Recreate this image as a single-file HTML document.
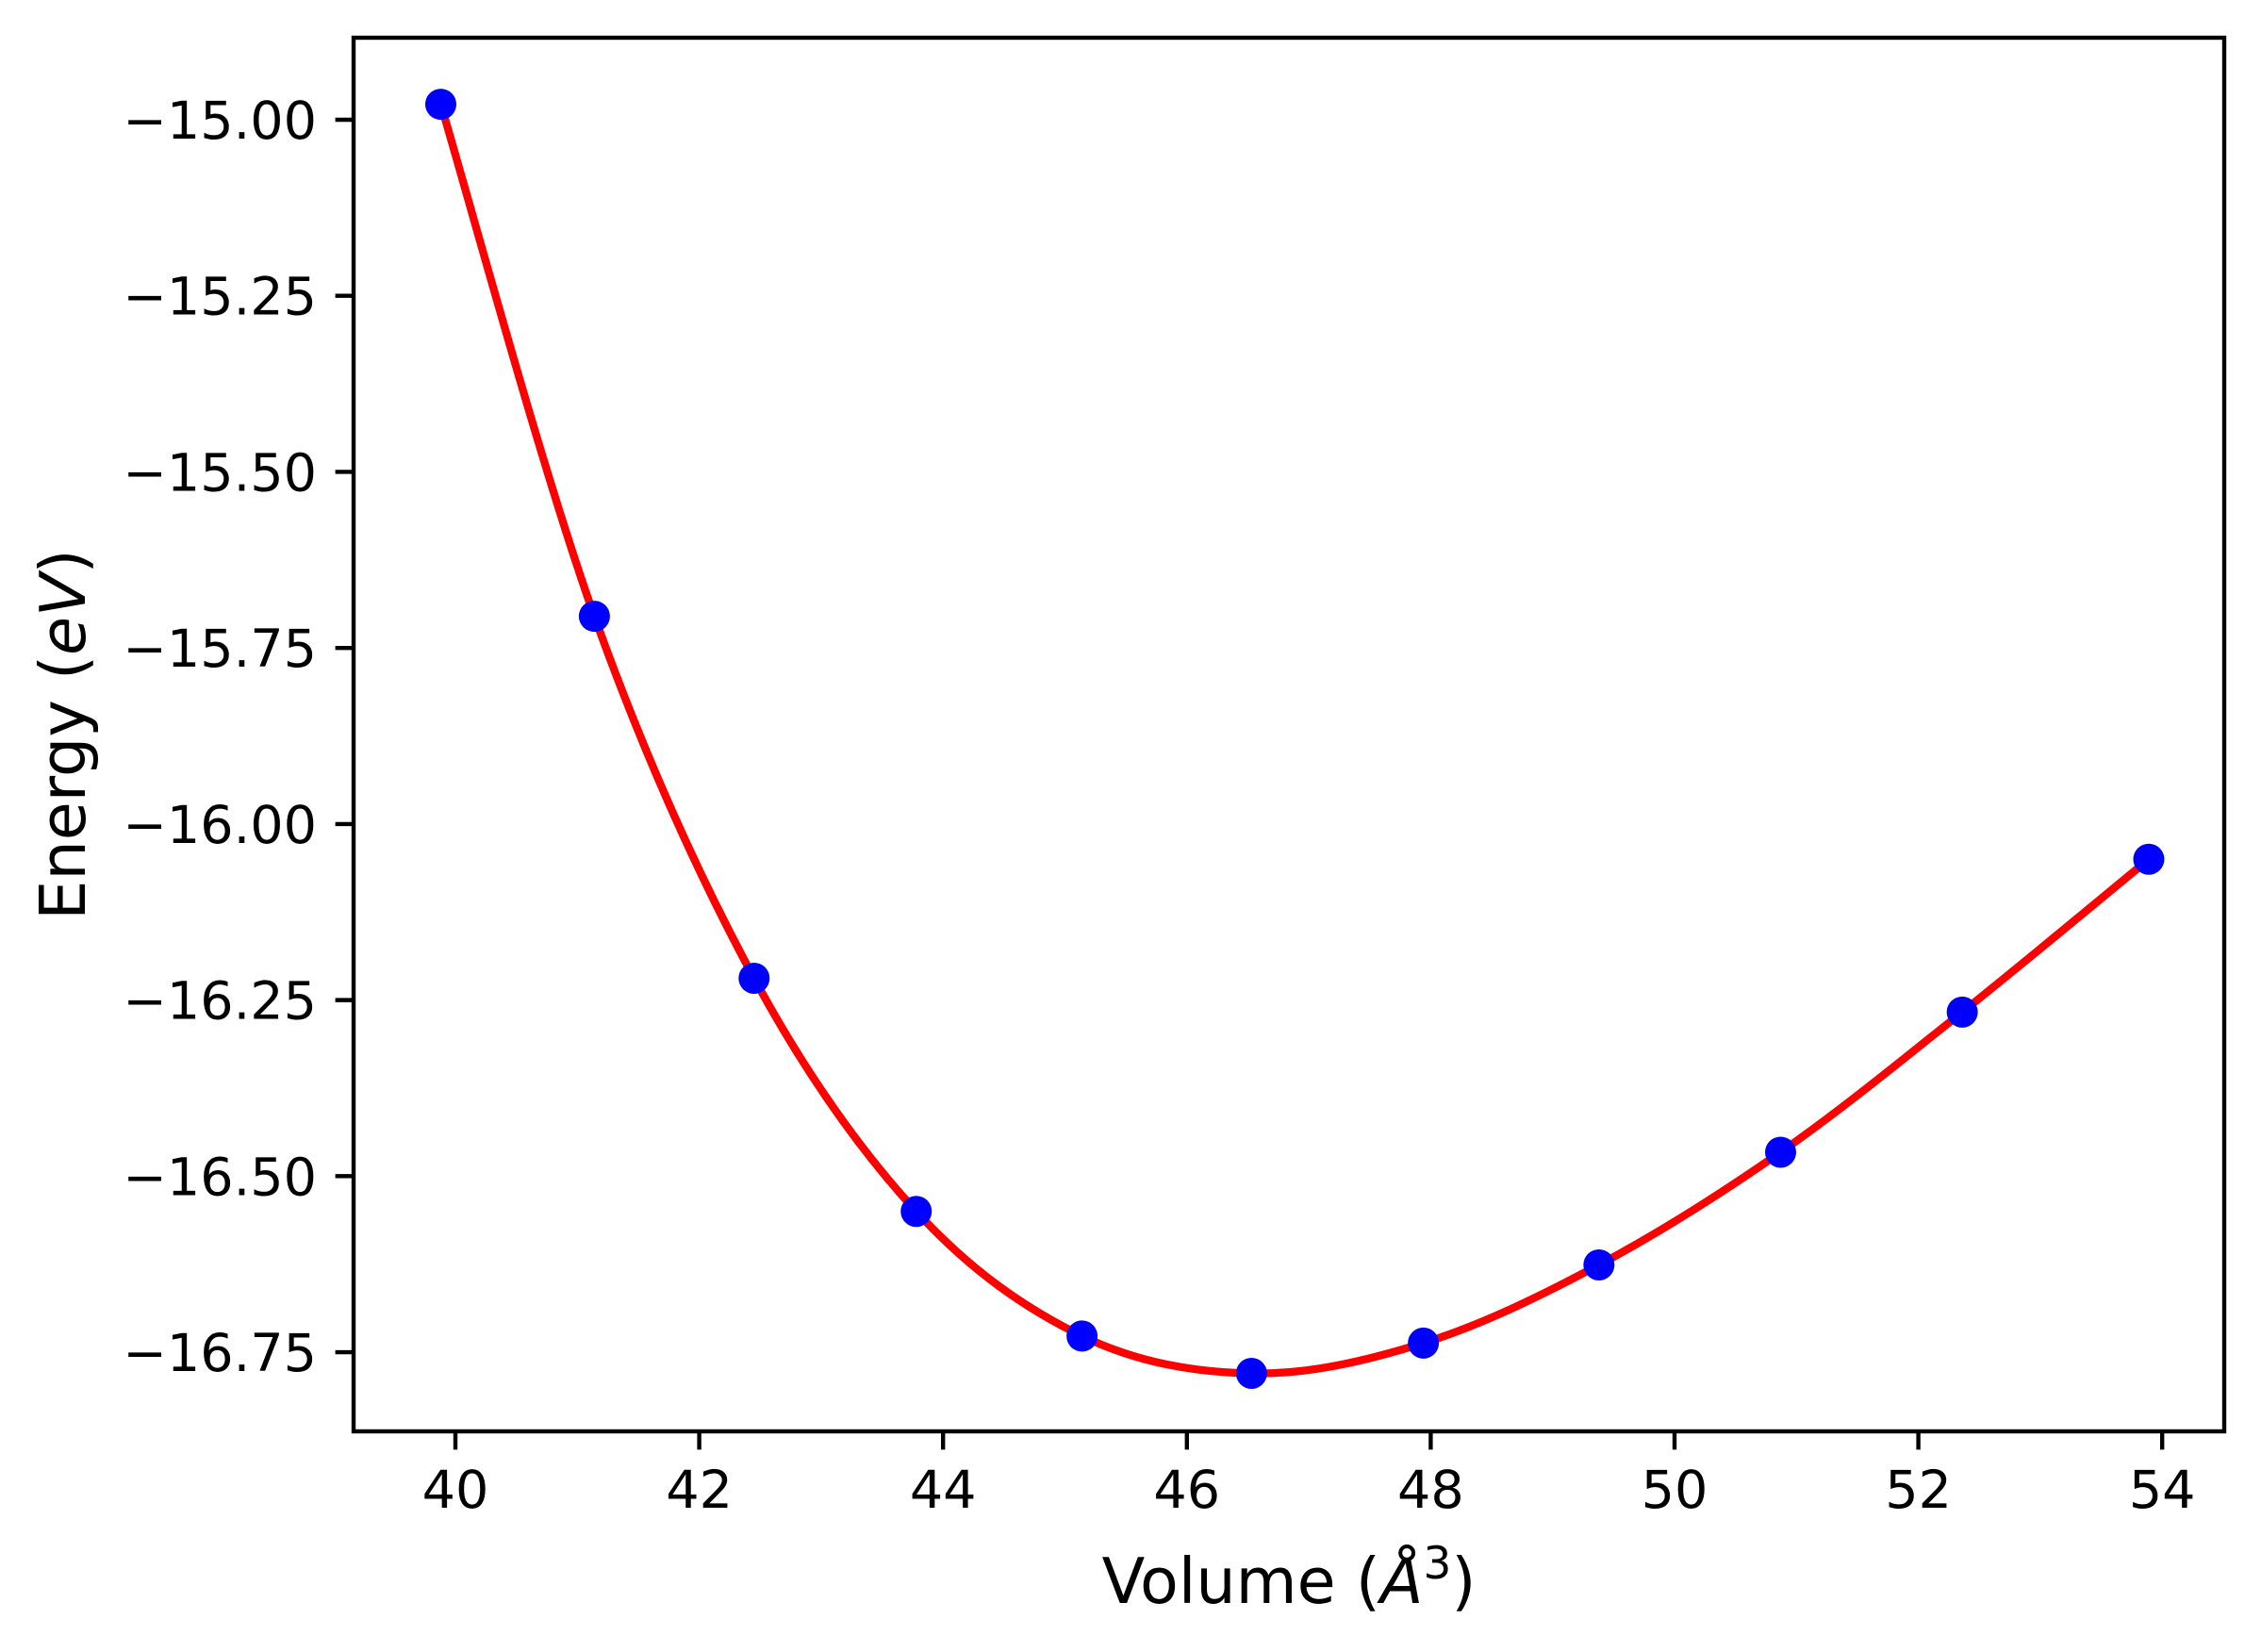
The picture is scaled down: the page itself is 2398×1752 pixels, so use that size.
<!DOCTYPE html>
<html><head><meta charset="utf-8"><style>
html,body{margin:0;padding:0;background:#fff;}
svg text{font-family:"DejaVu Sans","Liberation Sans",sans-serif;fill:#000;}
</style></head><body>
<svg id="chart" width="2398" height="1747" viewBox="0 0 2398 1747" xmlns="http://www.w3.org/2000/svg">
<rect x="0" y="0" width="2398" height="1747" fill="#fff"/>
<g id="plot"></g>
<g id="axes"></g>
<text x="1367" y="1700" font-size="66.7" text-anchor="middle">Volume (<tspan font-style="italic">Å</tspan><tspan dy="-26" font-size="47">3</tspan><tspan dy="26">)</tspan></text>
<text transform="translate(90,779) rotate(-90)" font-size="66.7" text-anchor="middle">Energy (<tspan font-style="italic">eV</tspan>)</text>
</svg>
<script>
const volumes = [39.88, 41.14, 42.45, 43.78, 45.14, 46.53, 47.94, 49.38, 50.87, 52.36, 53.89];
const energies = [-14.978, -15.705, -16.219, -16.550, -16.727, -16.780, -16.737, -16.626, -16.466, -16.267, -16.050];
const xTicks = [40, 42, 44, 46, 48, 50, 52, 54];
const yTicks = [-15.00, -15.25, -15.50, -15.75, -16.00, -16.25, -16.50, -16.75];

const L=375, R=2359, T=40, B=1518;
function xs(v){return 483 + (v-40)*129.3;}
function ys(e){return 127 + (-15 - e)*746.9;}
const NS="http://www.w3.org/2000/svg";
function mk(tag, attrs, parent){const el=document.createElementNS(NS,tag);for(const k in attrs)el.setAttribute(k,attrs[k]);parent.appendChild(el);return el;}
const plot=document.getElementById('plot'), axes=document.getElementById('axes');

// smooth fit curve (Catmull-Rom through data)
const P=volumes.map((v,i)=>[xs(v),ys(energies[i])]);
let d='M'+P[0][0]+','+P[0][1];
for(let i=0;i<P.length-1;i++){
  const p0=P[Math.max(0,i-1)],p1=P[i],p2=P[i+1],p3=P[Math.min(P.length-1,i+2)];
  const c1=[p1[0]+(p2[0]-p0[0])/6,p1[1]+(p2[1]-p0[1])/6];
  const c2=[p2[0]-(p3[0]-p1[0])/6,p2[1]-(p3[1]-p1[1])/6];
  d+=' C'+c1[0]+','+c1[1]+' '+c2[0]+','+c2[1]+' '+p2[0]+','+p2[1];
}
const curve=mk('path',{d:d,fill:'none',stroke:'#ff0000','stroke-width':8.3},plot);


volumes.forEach((v,i)=>{
  const c=mk('circle',{cx:xs(v),cy:ys(energies[i]),r:16.5,fill:'#0000ff'},plot);
  
  
});
xTicks.forEach(t=>{
  const x=xs(t);
  const ln=mk('line',{x1:x,x2:x,y1:B,y2:B+19.4,stroke:'#000','stroke-width':4.4},axes);
  
  
  const tx=mk('text',{x:x,y:1599,'font-size':55.6,'text-anchor':'middle'},axes);
  tx.textContent=String(t);
  
  
});
yTicks.forEach(t=>{
  const y=ys(t);
  const ln=mk('line',{x1:L-19.4,x2:L,y1:y,y2:y,stroke:'#000','stroke-width':4.4},axes);
  
  
  const tx=mk('text',{x:336,y:y+20,'font-size':55.6,'text-anchor':'end'},axes);
  tx.textContent='\u2212'+Math.abs(t).toFixed(2);
  
  
});
const frame=mk('rect',{x:L,y:T,width:R-L,height:B-T,fill:'none',stroke:'#000','stroke-width':4.4},axes);


</script>
</body></html>
